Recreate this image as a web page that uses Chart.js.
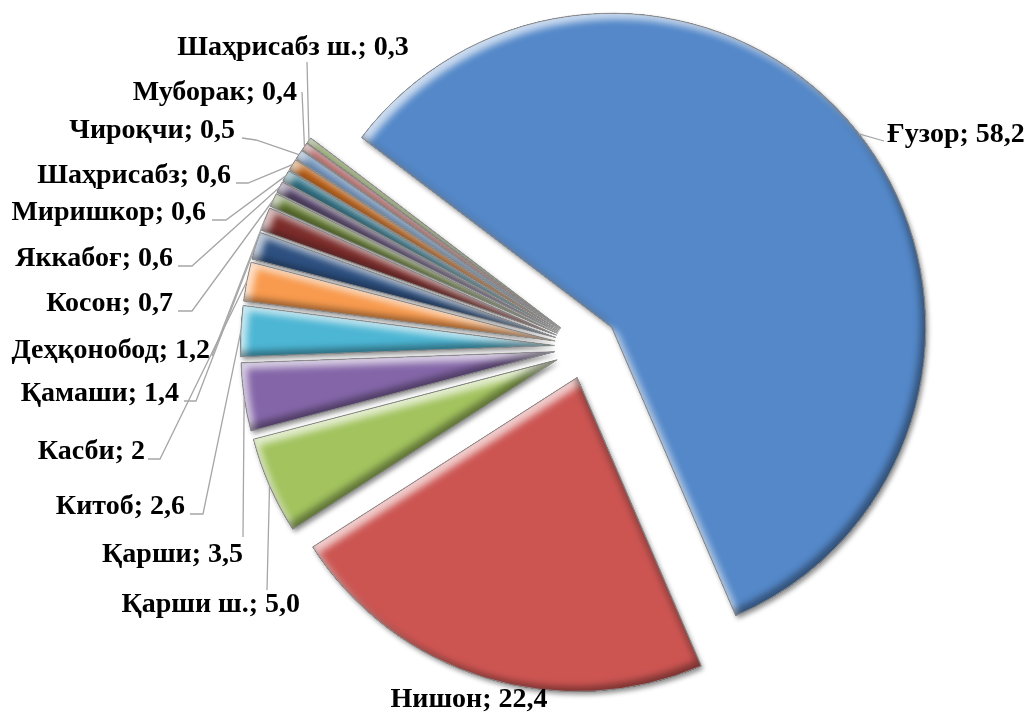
<!DOCTYPE html>
<html><head><meta charset="utf-8">
<script src="https://cdn.jsdelivr.net/npm/chart.js@4/dist/chart.umd.min.js"></script>
<style>html,body{margin:0;padding:0;background:#fff;}#wrap{width:1029px;height:713px;}</style>
</head><body><div id="wrap"><canvas id="c" width="1029" height="713"></canvas></div>
<script>
const categories = ['Ғузор','Нишон','Қарши ш.','Қарши','Китоб','Касби','Қамаши','Деҳқонобод','Косон','Яккабоғ','Миришкор','Шаҳрисабз','Чироқчи','Муборак','Шаҳрисабз ш.'];
const values = [58.2,22.4,5.0,3.5,2.6,2,1.4,1.2,0.7,0.6,0.6,0.6,0.5,0.4,0.3];
const valueLabels = ['58,2','22,4','5,0','3,5','2,6','2','1,4','1,2','0,7','0,6','0,6','0,6','0,5','0,4','0,3'];
const colors = ['#5488c9','#cc5552','#a2c35e','#8466a8','#4db6d4','#f89b4f','#2d5080','#7c2d2b','#62792f','#4f3d66','#287086','#c05c0c','#739bcb','#d07473','#b0ca7b'];

// label layout (text anchor, baseline, alignment, leader start points)
const labelLayout = [
  {x:887, y:142, align:'left',   lead:[[884,141]]},
  {x:469, y:707, align:'center', lead:null},
  {x:300, y:612, align:'right',  lead:[[267,590]]},
  {x:243, y:562, align:'right',  lead:[[243,537]]},
  {x:185, y:514, align:'right',  lead:[[190,514],[203,514]]},
  {x:145, y:459, align:'right',  lead:[[148,459],[160,459]]},
  {x:179, y:401, align:'right',  lead:[[184,401],[196,401]]},
  {x:210, y:358, align:'right',  lead:[[212,356]]},
  {x:173, y:311, align:'right',  lead:[[178,311],[192,311]]},
  {x:173, y:266, align:'right',  lead:[[178,266],[192,266]]},
  {x:206, y:220, align:'right',  lead:[[212,220],[226,220]]},
  {x:231, y:183, align:'right',  lead:[[236,183],[248,183]]},
  {x:235, y:138, align:'right',  lead:[[242,138],[256,140]]},
  {x:297, y:100, align:'right',  lead:[[302,92]]},
  {x:293, y:55,  align:'center', lead:[[307,62]]}
];
const EXPLODE = 32;

function geom(arc){
  const p = arc.getProps(['x','y','startAngle','endAngle','outerRadius'], true);
  const mid = (p.startAngle + p.endAngle) / 2;
  const cx = p.x + Math.cos(mid) * EXPLODE, cy = p.y + Math.sin(mid) * EXPLODE;
  return {cx, cy, r:p.outerRadius, s:p.startAngle, e:p.endAngle, mid};
}

const explode3d = {
  id:'explode3d',
  beforeDatasetsDraw(chart){
    const ctx = chart.ctx;
    const meta = chart.getDatasetMeta(0);
    const shapes = meta.data.map(arc => {
      const g = geom(arc);
      const p = new Path2D();
      p.moveTo(g.cx, g.cy); p.arc(g.cx, g.cy, g.r, g.s, g.e); p.closePath();
      return Object.assign(g, {p, color: arc.options.backgroundColor});
    });
    shapes.forEach(sh => {
      ctx.save();
      ctx.shadowColor = 'rgba(0,0,0,0.45)'; ctx.shadowBlur = 5;
      ctx.shadowOffsetX = 2; ctx.shadowOffsetY = 3;
      ctx.fillStyle = sh.color; ctx.fill(sh.p);
      ctx.restore();
    });
    shapes.forEach(sh => {
      ctx.save();
      ctx.fillStyle = sh.color; ctx.fill(sh.p);
      ctx.clip(sh.p);
      const outer = new Path2D();
      outer.rect(-3000, -3000, 7000, 7000);
      outer.addPath(sh.p);
      ctx.fillStyle = '#000';
      ctx.shadowColor = 'rgba(255,255,255,0.7)'; ctx.shadowBlur = 7;
      ctx.shadowOffsetX = 6; ctx.shadowOffsetY = 6;
      ctx.fill(outer, 'evenodd');
      ctx.shadowColor = 'rgba(0,0,0,0.4)';
      ctx.shadowOffsetX = -5; ctx.shadowOffsetY = -5;
      ctx.fill(outer, 'evenodd');
      ctx.restore();
      ctx.save();
      ctx.strokeStyle = 'rgba(150,150,150,0.9)'; ctx.lineWidth = 1;
      ctx.stroke(sh.p);
      ctx.restore();
    });
    return false;
  },
  afterDraw(chart){
    const ctx = chart.ctx;
    const meta = chart.getDatasetMeta(0);
    ctx.save();
    ctx.font = 'bold 28px "Liberation Serif", "Times New Roman", serif';
    ctx.fillStyle = '#000';
    ctx.textBaseline = 'alphabetic';
    meta.data.forEach((arc, i) => {
      const L = labelLayout[i];
      const g = geom(arc);
      const tx = g.cx + Math.cos(g.mid) * g.r, ty = g.cy + Math.sin(g.mid) * g.r;
      if (L.lead) {
        ctx.beginPath();
        ctx.moveTo(L.lead[0][0], L.lead[0][1]);
        for (let k = 1; k < L.lead.length; k++) ctx.lineTo(L.lead[k][0], L.lead[k][1]);
        ctx.lineTo(tx, ty);
        ctx.strokeStyle = '#a6a6a6'; ctx.lineWidth = 1.3; ctx.stroke();
      }
      ctx.textAlign = L.align;
      ctx.fillText(categories[i] + '; ' + valueLabels[i], L.x, L.y);
    });
    ctx.restore();
  }
};

new Chart(document.getElementById('c'), {
  type:'pie',
  data:{ labels:categories, datasets:[{ data:values, backgroundColor:colors, borderWidth:0 }]},
  options:{
    responsive:false, animation:false, devicePixelRatio:1,
    rotation:-52.8, radius:314,
    layout:{ padding:{left:144, right:0, top:0, bottom:19} },
    plugins:{ legend:{display:false}, tooltip:{enabled:false} }
  },
  plugins:[explode3d]
});
</script></body></html>
